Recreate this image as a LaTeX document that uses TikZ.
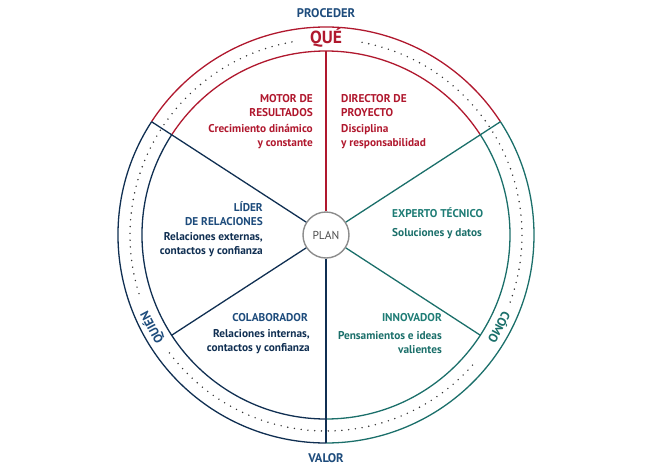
\documentclass[tikz,border=0pt]{standalone}
\usepackage{fontspec}
\setmainfont{PT Sans}
\newlength{\du}
\setlength{\du}{1pt}
\definecolor{quered}{RGB}{176,24,46}
\definecolor{quiennavy}{RGB}{16,47,82}
\definecolor{quienblue}{RGB}{30,76,124}
\definecolor{comoteal}{RGB}{27,111,106}
\definecolor{comotitle}{RGB}{30,124,117}
\definecolor{plangray}{RGB}{140,140,140}
\tikzset{
  ringline/.style={line width=1.3\du},
  dotring/.style={line width=1.6\du,line cap=round,dash pattern=on 0pt off 6.8\du,black!80},
  plannode/.style={circle,draw=plangray,line width=1.4\du,fill=white,minimum size=46\du,inner sep=0pt,text=black!70,font=\fontsize{11.5}{13}\selectfont},
  sectortitle/.style={inner sep=0pt,font=\bfseries\fontsize{11.3}{14}\selectfont},
  sectortext/.style={inner sep=0pt,font=\bfseries\fontsize{11.3}{14}\selectfont},
  ringlabel/.style={inner sep=0pt,font=\bfseries\fontsize{12.5}{14}\selectfont}
}

\begin{document}
\begin{tikzpicture}
\useasboundingbox (-326\du,-237\du) rectangle (324\du,235\du);
% outer and inner ring, one colour per third
\draw[ringline,quered] (33:208\du) arc[start angle=33,end angle=147,radius=208\du];
\draw[ringline,quered] (33:184\du) arc[start angle=33,end angle=147,radius=184\du];
\draw[ringline,quiennavy] (147:208\du) arc[start angle=147,end angle=270,radius=208\du];
\draw[ringline,quiennavy] (147:184\du) arc[start angle=147,end angle=270,radius=184\du];
\draw[ringline,comoteal] (270:208\du) arc[start angle=270,end angle=393,radius=208\du];
\draw[ringline,comoteal] (270:184\du) arc[start angle=270,end angle=393,radius=184\du];
% dotted track, open where the labels sit
\draw[dotring] (100:196\du) arc[start angle=100,end angle=199,radius=196\du];
\draw[dotring] (217:196\du) arc[start angle=217,end angle=320,radius=196\du];
\draw[dotring] (340:196\du) arc[start angle=340,end angle=440,radius=196\du];
\node[plannode] (plan) at (0\du,0\du) {PLAN};
% spokes
\foreach \a/\r/\c in {90/184/quered,33/208/comoteal,-33/184/comoteal,270/208/quiennavy,213/184/quiennavy,147/208/quiennavy}{
  \coordinate (s\a) at (\a:\r\du);
  \draw[ringline,\c] (plan) -- (s\a);
}
% ring labels
\node[ringlabel,quienblue] (proceder) at (0\du,222\du) {PROCEDER};
\node[ringlabel,quienblue] (valor) at (0\du,-223\du) {VALOR};
\node[ringlabel,quered,font=\bfseries\fontsize{17.5}{19}\selectfont] (que) at (90:197\du) {QUÉ};
\node[ringlabel,quienblue,rotate=118] (quien) at (208:197\du) {QUIÉN};
\node[ringlabel,comoteal,rotate=-118] (como) at (-28:197\du) {CÓMO};
% sectors
\node[sectortitle,quered,anchor=east,align=right] (motor) at (-13\du,129\du) {MOTOR DE\\RESULTADOS};
\node[sectortext,quered,anchor=east,align=right] (motortxt) at (-13\du,98\du) {Crecimiento dinámico\\y constante};
\node[sectortitle,quered,anchor=west,align=left] (director) at (15\du,129\du) {DIRECTOR DE\\PROYECTO};
\node[sectortext,quered,anchor=west,align=left] (directortxt) at (15\du,98\du) {Disciplina\\y responsabilidad};
\node[sectortitle,quienblue,anchor=east,align=right] (lider) at (-63\du,21\du) {LÍDER\\DE RELACIONES};
\node[sectortext,quiennavy,anchor=east,align=right] (lidertxt) at (-63\du,-10\du) {Relaciones externas,\\contactos y confianza};
\node[sectortitle,comotitle,anchor=west] (experto) at (66\du,22\du) {EXPERTO TÉCNICO};
\node[sectortext,comoteal,anchor=west] (expertotxt) at (66\du,1\du) {Soluciones y datos};
\node[sectortitle,quienblue,anchor=east] (colab) at (-18\du,-83\du) {COLABORADOR};
\node[sectortext,quiennavy,anchor=east,align=right] (colabtxt) at (-16\du,-107\du) {Relaciones internas,\\contactos y confianza};
\node[sectortitle,comotitle,anchor=east] (innova) at (116\du,-83\du) {INNOVADOR};
\node[sectortext,comoteal,anchor=east,align=right] (innovatxt) at (116\du,-108\du) {Pensamientos e ideas\\valientes};
\end{tikzpicture}
\end{document}
